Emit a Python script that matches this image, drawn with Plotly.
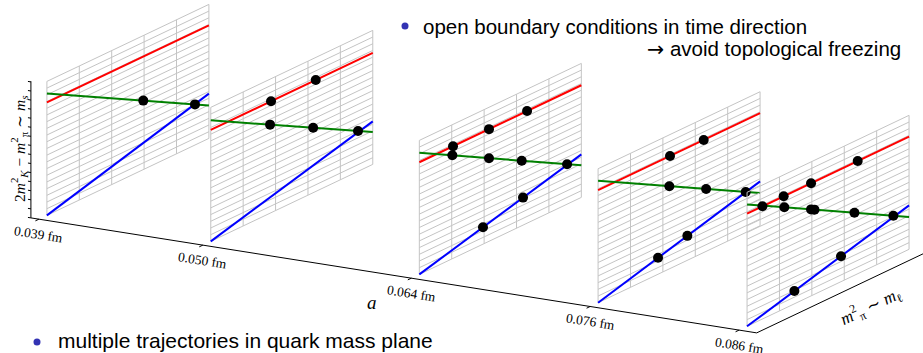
import plotly.graph_objects as go
import numpy as np

# ---------------- data ----------------
spacings_fm = [0.039, 0.050, 0.064, 0.076, 0.086]
spacing_labels = ["0.039 fm", "0.050 fm", "0.064 fm", "0.076 fm", "0.086 fm"]

# normalized quark-mass plane: u ~ m_pi^2 (0..1), v ~ 2m_K^2 - m_pi^2 (0..1)
red_ms = [0.843, 0.832, 0.837, 0.840, 0.841]          # m_s = const trajectory
green_start = [0.910, 0.903, 0.908, 0.910, 0.910]     # tr M = const trajectory (u=0)
green_end = [0.246, 0.241, 0.239, 0.244, 0.241]       # (u=1)
blue_end = [0.334, 0.321, 0.321, 0.331, 0.328]        # symmetric line (u=1)

red_pts = [[], [0.372, 0.648], [0.208, 0.430, 0.665], [0.444, 0.652],
           [0.095, 0.226, 0.395, 0.683]]
green_pts = [[0.595, 0.914], [0.366, 0.632, 0.909], [0.204, 0.430, 0.632, 0.912],
             [0.440, 0.667, 0.911], [0.230, 0.395, 0.416, 0.663, 0.903]]
blue_pts = [[], [], [0.393, 0.640], [0.370, 0.551], [0.292, 0.580]]

grid_u = [0.0, 0.2, 0.4, 0.6, 0.8, 1.0]
grid_v = [i * 0.05 for i in range(21)]

a_axis_range = [0.03846, 0.08718]
u_axis_range = [-0.049, 1.25]
v_axis_range = [0.0, 1.02]
n_v_ticks = 16

# ---------------- oblique projection ----------------
W, H = 923, 353
def proj(a, u, v):
    A = a * 1000.0 - 39.0
    x = 46.9 + 14.897 * A + 162.0 * u
    y = 215.4 + 2.36 * A - 77.0 * u - 134.0 * v
    return x, y

fig = go.Figure()

def add_line(pts, color, width):
    xs, ys = [], []
    for seg in pts:
        for p in seg:
            x, y = proj(*p)
            xs.append(x); ys.append(y)
        xs.append(None); ys.append(None)
    fig.add_trace(go.Scatter(x=xs, y=ys, mode="lines",
                             line=dict(color=color, width=width),
                             hoverinfo="skip", showlegend=False))

# axes frame
a0, a1 = a_axis_range
u0 = u_axis_range[0]
add_line([[(a0, u0, 0), (a1, u0, 0)],
          [(a1, u0, 0), (a1, u_axis_range[1], 0)],
          [(a0, u0, 0), (a0, u0, v_axis_range[1])]], "black", 1)
# ticks on a axis
add_line([[(a, u0, 0), (a, u0 - 0.022, 0)] for a in spacings_fm], "black", 1)
# ticks on vertical axis
vt = np.linspace(v_axis_range[0], v_axis_range[1] * 0.995, n_v_ticks)
add_line([[(a0, u0, v), (a0 - 0.0002, u0, v)] for v in vt], "black", 1)

for i, a in enumerate(spacings_fm):
    segs = [[(a, u, 0), (a, u, 1)] for u in grid_u]
    segs += [[(a, 0, v), (a, 1, v)] for v in grid_v]
    add_line(segs, "#c4c4c4", 1)
    add_line([[(a, 0, red_ms[i]), (a, 1, red_ms[i])]], "#ff0000", 2)
    add_line([[(a, 0, green_start[i]), (a, 1, green_end[i])]], "#008000", 2)
    add_line([[(a, 0, 0), (a, 1, blue_end[i])]], "#0000ff", 2)
    xs, ys = [], []
    for u in red_pts[i]:
        x, y = proj(a, u, red_ms[i]); xs.append(x); ys.append(y)
    for u in green_pts[i]:
        x, y = proj(a, u, green_start[i] + (green_end[i] - green_start[i]) * u)
        xs.append(x); ys.append(y)
    for u in blue_pts[i]:
        x, y = proj(a, u, blue_end[i] * u); xs.append(x); ys.append(y)
    fig.add_trace(go.Scatter(x=xs, y=ys, mode="markers",
                             marker=dict(color="black", size=10),
                             hoverinfo="skip", showlegend=False))

ann = []
serif = "Liberation Serif, DejaVu Serif, serif"
sans = "Liberation Sans, Arial, sans-serif"
ang = float(np.degrees(np.arctan2(2.36, 14.897)))
for a, lab in zip(spacings_fm, spacing_labels):
    x, y = proj(a, u0, 0)
    ann.append(dict(x=x, y=y + 15, text=lab, textangle=ang,
                    font=dict(family=serif, size=13.5, color="black")))
ann.append(dict(x=372, y=302, text="<i>a</i>", font=dict(family=serif, size=19, color="black")))
ang2 = -float(np.degrees(np.arctan2(77, 162)))
ann.append(dict(x=870, y=306, textangle=ang2,
                text="<i>m</i><sup>2</sup><sub>π</sub> ∼ <i>m</i><sub>ℓ</sub>",
                font=dict(family=serif, size=17, color="black")))
ann.append(dict(x=19, y=149, textangle=-90,
                text="2<i>m</i><sup>2</sup><sub><i>K</i></sub> − <i>m</i><sup>2</sup><sub>π</sub> ∼ <i>m</i><sub><i>s</i></sub>",
                font=dict(family=serif, size=15.5, color="black")))
ann.append(dict(x=421, y=26, xanchor="left", text="open boundary conditions in time direction",
                font=dict(family=sans, size=20.5, color="black")))
ann.append(dict(x=903, y=49, xanchor="right",
                text="<span style='font-family:DejaVu Sans'>→</span> avoid topological freezing",
                font=dict(family=sans, size=20.5, color="black")))
ann.append(dict(x=56, y=340, xanchor="left", text="multiple trajectories in quark mass plane",
                font=dict(family=sans, size=21, color="black")))
for a_ in ann:
    a_.setdefault("showarrow", False)
    a_.setdefault("xanchor", "center")
    a_.setdefault("yanchor", "middle")
    a_["xref"] = "x"; a_["yref"] = "y"

# bullets
fig.add_trace(go.Scatter(x=[405, 37], y=[26, 342], mode="markers",
                         marker=dict(color="#3333b3", size=7),
                         hoverinfo="skip", showlegend=False))

fig.update_layout(width=W, height=H, margin=dict(l=0, r=0, t=0, b=0),
                  paper_bgcolor="white", plot_bgcolor="white",
                  xaxis=dict(range=[0, W], visible=False, fixedrange=True),
                  yaxis=dict(range=[H, 0], visible=False, fixedrange=True),
                  annotations=ann, showlegend=False)
fig.write_html("out.html")
